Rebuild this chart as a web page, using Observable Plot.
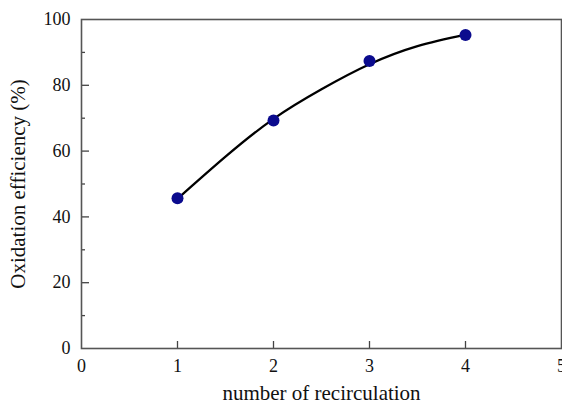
<!DOCTYPE html>
<html>
<head>
<meta charset="utf-8">
<script src="https://cdn.jsdelivr.net/npm/d3@7"></script>
<script src="https://cdn.jsdelivr.net/npm/@observablehq/plot@0.6"></script>
<style>
  html, body { margin: 0; padding: 0; background: #fff; }
  #chart svg { display: block; }
</style>
</head>
<body>
<div id="chart"></div>
<script>
// Measured oxidation efficiency after each recirculation pass
const passes = [1, 2, 3, 4];
const efficiency = [45.7, 69.3, 87.4, 95.3];

// Fitted trend line, sampled along the number of passes
const fitPasses = [1, 1.5, 2, 2.5, 3, 3.5, 4];
const fitEfficiency = [45.5, 58.3, 69.8, 78.8, 86.4, 91.9, 95.4];

// Axis ticks
const xTicks = [0, 1, 2, 3, 4, 5];
const xInnerTicks = [1, 2, 3, 4];
const yTicks = [0, 20, 40, 60, 80, 100];
const yMajorInner = [20, 40, 60, 80];
const yMinorInner = [10, 30, 50, 70, 90];

const points = passes.map((p, i) => ({p, e: efficiency[i]}));
const fit = fitPasses.map((p, i) => ({p, e: fitEfficiency[i]}));

const font = "'Liberation Serif', 'Times New Roman', serif";

const chart = Plot.plot({
  width: 562,
  height: 403,
  marginLeft: 81,
  marginRight: 1,
  marginTop: 19,
  marginBottom: 55,
  style: {fontFamily: font, fontSize: "18px", color: "#111", background: "#fff"},
  x: {domain: [0, 5]},
  y: {domain: [0, 100]},
  marks: [
    // inward tick marks
    Plot.axisY(yMajorInner, {tickSize: -8, text: null, label: null, stroke: "#444", strokeWidth: 1.3}),
    Plot.axisY(yMinorInner, {tickSize: -4, text: null, label: null, stroke: "#444", strokeWidth: 1.3}),
    Plot.axisX(xInnerTicks, {tickSize: -7, text: null, label: null, stroke: "#444", strokeWidth: 1.3}),
    // tick labels and titles
    Plot.axisY(yTicks, {
      tickSize: 0, tickPadding: 11, fontSize: 18,
      label: "Oxidation efficiency (%)", labelAnchor: "center", labelArrow: "none", labelOffset: 71
    }),
    Plot.axisX(xTicks, {
      tickSize: 0, tickPadding: 11, fontSize: 18,
      label: "number of recirculation", labelAnchor: "center", labelArrow: "none", labelOffset: 51
    }),
    Plot.frame({stroke: "#555", strokeWidth: 1.6}),
    Plot.line(fit, {x: "p", y: "e", curve: "natural", stroke: "#000", strokeWidth: 2.3}),
    Plot.dot(points, {x: "p", y: "e", r: 6, fill: "#0b0b8e", stroke: "none"})
  ]
});

// axis titles use the larger size
chart.querySelectorAll("[aria-label$='axis label']").forEach(g => g.setAttribute("font-size", "21"));

document.getElementById("chart").appendChild(chart);
</script>
</body>
</html>
